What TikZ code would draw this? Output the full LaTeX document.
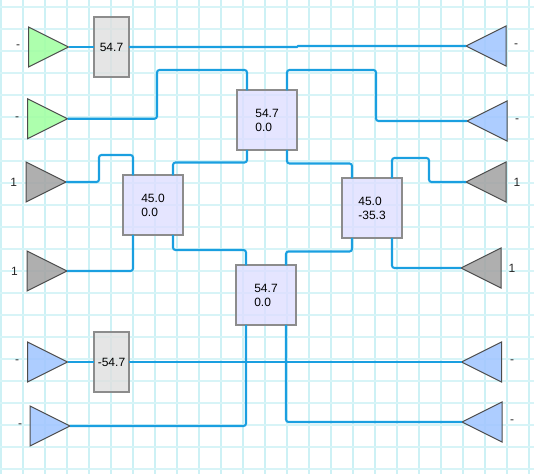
\documentclass[tikz,border=0pt]{standalone}
\usepackage{fontspec}
\setmainfont{Liberation Sans}
\usetikzlibrary{calc,shapes.geometric}

\definecolor{gridcol}{HTML}{CDF1F5}
\definecolor{wirecol}{HTML}{1A9FE0}
\definecolor{pgreen}{HTML}{A2FFA2}
\definecolor{pblue}{HTML}{A2C6FF}
\definecolor{pgray}{HTML}{A4A4A4}

\tikzset{
  wire/.style={draw=wirecol, line width=2.1pt, rounded corners=2.5pt},
  port/.style={isosceles triangle, isosceles triangle stretches, draw=black!70,
    line width=1pt, inner sep=0pt, outer sep=0pt, minimum width=40pt,
    minimum height=40pt, anchor=apex, fill opacity=.88, text opacity=1},
  portR/.style={port, shape border rotate=180},
  valbox/.style={draw=black!45, line width=2.2pt, fill opacity=.8, text opacity=1,
    inner sep=0pt, outer sep=0pt, font=\fontsize{12}{14}\selectfont},
  phase/.style={valbox, fill=gray!25, minimum width=34.5pt, minimum height=59.5pt},
  coupler/.style={valbox, fill=blue!13, minimum width=59.5pt, minimum height=59.5pt, align=left},
  tag/.style={font=\fontsize{12}{14}\selectfont, text=black!85, inner sep=0pt}
}

\begin{document}
\begin{tikzpicture}[x=1pt, y=-1pt]

\useasboundingbox (0,0) rectangle (534,474);

% Grid paper
\foreach \gx in {0,...,24}
  \draw[gridcol, line width=2pt] ({0.7+22*\gx},0) -- ({0.7+22*\gx},474);
\foreach \gy in {0,...,21}
  \draw[gridcol!80, line width=2pt] (0,{6.7+22*\gy}) -- (534,{6.7+22*\gy});

% Inputs
\node[port, fill=pgreen] (inA) at (68.5,47) {};
\node[port, fill=pgreen] (inB) at (67.5,118.7) {};
\node[port, fill=pgray] (inC) at (66,182) {};
\node[port, fill=pgray] (inD) at (67,271) {};
\node[port, fill=pblue] (inE) at (67.5,362) {};
\node[port, fill=pblue] (inF) at (70,426) {};

% Outputs
\node[portR, fill=pblue] (outA) at (466,46) {};
\node[portR, fill=pblue] (outB) at (467,121) {};
\node[portR, fill=pgray] (outC) at (466,182) {};
\node[portR, fill=pgray] (outD) at (461,268) {};
\node[portR, fill=pblue] (outE) at (461.5,362) {};
\node[portR, fill=pblue] (outF) at (462,422) {};

% Single phase boxes
\node[phase] (phA) at (111.5,47) {54.7};
\node[phase] (phB) at (111.5,362) {-54.7};

% Couplers
\node[coupler] (cpA) at (267,120) {54.7\\0.0};
\node[coupler] (cpB) at (153,205) {45.0\\0.0};
\node[coupler] (cpC) at (372,208) {45.0\\-35.3};
\node[coupler] (cpD) at (266,295) {54.7\\0.0};

% Left tags
\node[tag] (tagA) at (18,47) {-};
\node[tag] (tagB) at (17,119) {-};
\node[tag] (tagC) at (13.7,182) {1};
\node[tag] (tagD) at (14.5,271) {1};
\node[tag] (tagE) at (17,362) {-};
\node[tag] (tagF) at (20,426) {-};

% Right tags
\node[tag] (tagG) at (516,46) {-};
\node[tag] (tagH) at (517,121) {-};
\node[tag] (tagI) at (517,182) {1};
\node[tag] (tagJ) at (512,268) {1};
\node[tag] (tagK) at (512,362) {-};
\node[tag] (tagL) at (512,422) {-};

% Straight runs
\draw[wire] (inA.apex) -- (phA.west);
\draw[wire, sharp corners] (phA.east) -- (297,47) -- (298,46) -- (outA.apex);
\draw[wire] (inE.apex) -- (phB.west);
\draw[wire] (phB.east) -- (outE.apex);

% Top coupler
\draw[wire] (inB.apex) -| (157,70) -| ([xshift=-20pt]cpA.north);
\draw[wire] ([xshift=20pt]cpA.north) |- (376,70) |- (outB.apex);
\draw[wire] ([xshift=-20pt]cpA.south) |- (173,162.5) -- ([xshift=20pt]cpB.north);
\draw[wire] ([xshift=20pt]cpA.south) |- (352,163.5) -- ([xshift=-20pt]cpC.north);

% Left coupler
\draw[wire] (inC.apex) -| (99,155) -| ([xshift=-20pt]cpB.north);
\draw[wire] (inD.apex) -| ([xshift=-20pt]cpB.south);
\draw[wire] ([xshift=20pt]cpB.south) |- (246,250) -- ([xshift=-20pt]cpD.north);

% Right coupler
\draw[wire] ([xshift=20pt]cpC.north) |- (429,158) |- (outC.apex);
\draw[wire] ([xshift=-20pt]cpC.south) |- (286,251.5) -- ([xshift=20pt]cpD.north);
\draw[wire] ([xshift=20pt]cpC.south) |- (outD.apex);

% Bottom coupler
\draw[wire] ([xshift=-20pt]cpD.south) |- (inF.apex);
\draw[wire] ([xshift=20pt]cpD.south) |- (outF.apex);

\end{tikzpicture}
\end{document}
